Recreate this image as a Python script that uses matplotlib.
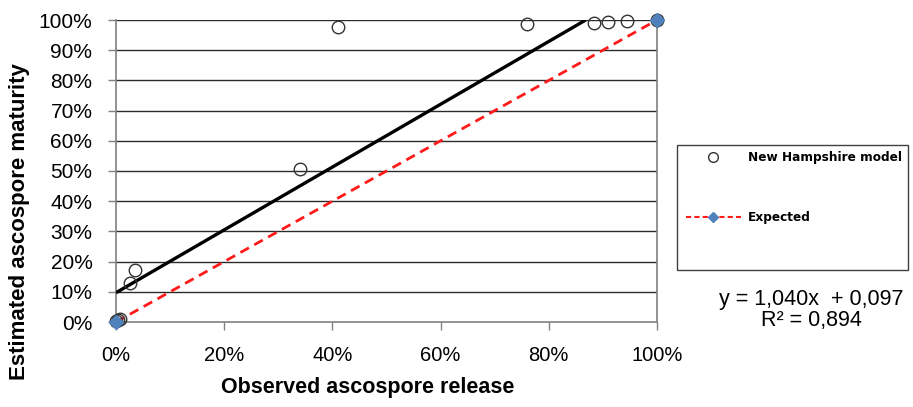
import matplotlib
matplotlib.use("Agg")
import matplotlib.pyplot as plt
from matplotlib.lines import Line2D
from matplotlib.patches import Rectangle

plt.rcParams['font.family'] = ['Liberation Sans', 'DejaVu Sans']

# Observed release vs. estimated maturity (fractions)
observed = [0.000, 0.004, 0.008, 0.026, 0.035, 0.340, 0.410, 0.760, 0.883, 0.909, 0.944, 1.000]
estimated = [0.002, 0.006, 0.010, 0.129, 0.172, 0.508, 0.977, 0.987, 0.990, 0.992, 0.996, 1.000]

# Expected 1:1 line
expected_x = [0.0, 1.0]
expected_y = [0.0, 1.0]

# Linear fit shown on the chart
slope = 1.040
intercept = 0.097
r_squared = 0.894

tick_vals_x = [0.0, 0.2, 0.4, 0.6, 0.8, 1.0]
tick_vals_y = [i / 10 for i in range(11)]

W, H = 913, 407
fig = plt.figure(figsize=(W / 100, H / 100), dpi=100)
ax = fig.add_axes([116 / W, 1 - 322 / H, (657 - 116) / W, (322 - 20) / H])

ax.set_xlim(0, 1)
ax.set_ylim(0, 1)

# horizontal gridlines
for v in tick_vals_y[1:]:
    ax.axhline(v, color='#2b2b2b', lw=1.0, zorder=1)

# trend line, clipped at 100%
x_end = (1.0 - intercept) / slope
ax.plot([0, x_end], [intercept, intercept + slope * x_end], color='black', lw=2.4,
        solid_capstyle='butt', zorder=3)

# expected line
ax.plot(expected_x, expected_y, color='#ff1a1a', lw=2.0, ls=(0, (3.5, 2.2)), zorder=4)

# observations
ax.plot(observed, estimated, ls='none', marker='o', ms=9, mfc='none', mec='#333333',
        mew=1.0, zorder=5, clip_on=False)

# expected markers
ax.plot(expected_x, expected_y, ls='none', marker='D', ms=7, color='#4f81bd',
        zorder=6, clip_on=False)

for side in ['left', 'bottom', 'right']:
    ax.spines[side].set_color('#808080')
    ax.spines[side].set_linewidth(1.2)
ax.spines['top'].set_visible(False)

ax.set_xticks(tick_vals_x)
ax.set_yticks(tick_vals_y)
ax.set_xticklabels([f"{int(round(v * 100))}%" for v in tick_vals_x])
ax.set_yticklabels([f"{int(round(v * 100))}%" for v in tick_vals_y])
ax.tick_params(axis='both', direction='out', length=6, width=1, color='#808080',
               labelcolor='black')
ax.tick_params(axis='x', pad=11, labelsize=14.5)
ax.tick_params(axis='y', pad=11, labelsize=15)

fig.text(368 / W, 1 - 388 / H, 'Observed ascospore release', ha='center', va='center',
         fontsize=15.5, fontweight='bold')
fig.text(20 / W, 1 - 222 / H, 'Estimated ascospore maturity', ha='center', va='center',
         rotation=90, fontsize=16, fontweight='bold')

# legend frame
fig.patches.append(Rectangle((677 / W, 1 - 270 / H), (908 - 677) / W, (270 - 145) / H,
                             transform=fig.transFigure, fill=False, ec='#404040', lw=1.0))

handles = [
    Line2D([], [], ls='none', marker='o', ms=7, mfc='none', mec='#333333', mew=1.0),
    Line2D([], [], color='#ff1a1a', lw=1.5, ls=(0, (2.5, 1.5)), marker='D', ms=5.5,
           mfc='#4f81bd', mec='#4f81bd'),
]
fig.legend(handles, ['New Hampshire model', 'Expected'], loc='upper left',
           bbox_to_anchor=(686 / W, 1 - 151 / H), frameon=False, borderpad=0,
           borderaxespad=0, handlelength=4.55, handletextpad=0.55, labelspacing=3.9,
           prop={'family': 'DejaVu Sans', 'weight': 'bold', 'size': 8.7})

eq = f"y = {slope:.3f}x  + {intercept:.3f}".replace('.', ',')
r2 = f"R² = {r_squared:.3f}".replace('.', ',')
fig.text(811 / W, 1 - 310 / H, eq + "\n" + r2, ha='center', va='center',
         fontsize=15.5, linespacing=0.95)

fig.savefig('out.png', dpi=100)
